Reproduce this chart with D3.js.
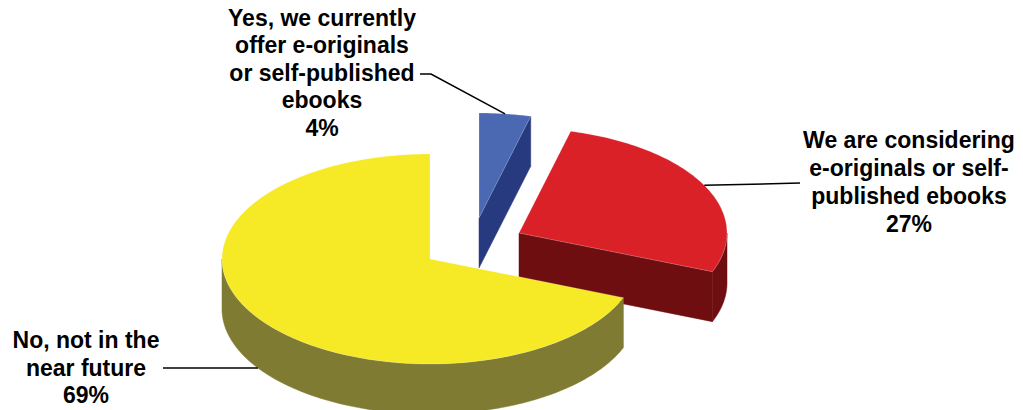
<!DOCTYPE html>
<html><head><meta charset="utf-8">
<script src="https://cdn.jsdelivr.net/npm/d3@7"></script>
<style>html,body{margin:0;padding:0;background:#fff;overflow:hidden}svg{display:block}</style>
</head><body>
<svg id="chart" width="1023" height="410"></svg>
<script>
// Survey answers, in pie order (clockwise from 12 o'clock)
const categories = [
  "Yes, we currently offer e-originals or self-published ebooks",
  "We are considering e-originals or self-published ebooks",
  "No, not in the near future"
];
const values = [4, 27, 69];
const labelLines = [
  ["Yes, we currently", "offer e-originals", "or self-published", "ebooks"],
  ["We are considering", "e-originals or self-", "published ebooks"],
  ["No, not in the", "near future"]
];
const percentLabels = ["4%", "27%", "69%"];

const topColors  = ["#4A69B2", "#DA2128", "#F6EA27"];
const sideColors = ["#283A7F", "#6E0E11", "#7F7B33"];

// 3D pie geometry
const cx = 430, cy = 259, rx = 208, ry = 105, depth = 50;
const explodeOffset = [[49, -41], [89, -26], [0, 0]];

// label layout: anchor x, first baseline, line step, leader line start on label side
const labelLayout = [
  { x: 322, y: 26,  step: 27.4, leader: [[420, 74], [431, 74]], z: 0 },
  { x: 909, y: 148, step: 28,   leader: [[800, 183]],           z: 0 },
  { x: 86,  y: 348, step: 27.5, leader: [[163, 368]],           z: depth }
];

const svg = d3.select("#chart");
const pie = d3.pie().sort(null).value(d => d.value);
const arcs = pie(values.map((v, i) => ({ value: v, i })));
const line = d3.line();

function pt(off, a, r, z) {
  return [cx + off[0] + rx * r * Math.sin(a), cy + off[1] - ry * r * Math.cos(a) + z];
}
function arcPts(off, a0, a1, z) {
  const n = Math.max(2, Math.ceil((a1 - a0) / 0.02));
  return d3.range(n + 1).map(k => pt(off, a0 + (a1 - a0) * k / n, 1, z));
}

const g = svg.append("g");

arcs.forEach((d, i) => {
  const off = explodeOffset[i];
  const a0 = d.startAngle, a1 = d.endAngle;
  const slice = g.append("g").attr("class", "slice");
  const c0 = pt(off, 0, 0, 0), c1 = pt(off, 0, 0, depth);

  // radial side walls facing the viewer
  [[a0, -Math.sin(a0) > 0], [a1, Math.sin(a1) > 0]].forEach(([a, vis]) => {
    if (!vis) return;
    const e0 = pt(off, a, 1, 0), e1 = pt(off, a, 1, depth);
    slice.append("path")
      .attr("d", line([c0, e0, e1, c1]) + "Z")
      .attr("fill", sideColors[i])
      .attr("stroke", sideColors[i]).attr("stroke-width", 0.5);
  });

  // outer rim on the front half of the ellipse
  const lo = Math.max(a0, Math.PI / 2), hi = Math.min(a1, 3 * Math.PI / 2);
  if (lo < hi) {
    const topEdge = arcPts(off, lo, hi, 0);
    const botEdge = arcPts(off, lo, hi, depth).reverse();
    slice.append("path")
      .attr("d", line(topEdge.concat(botEdge)) + "Z")
      .attr("fill", sideColors[i])
      .attr("stroke", sideColors[i]).attr("stroke-width", 0.5);
  }

  // top face
  slice.append("path")
    .attr("d", line([c0].concat(arcPts(off, a0, a1, 0))) + "Z")
    .attr("fill", topColors[i])
    .attr("stroke", "rgba(255,255,255,0.35)").attr("stroke-width", 0.6);
});

// leader lines
arcs.forEach((d, i) => {
  const lay = labelLayout[i];
  const mid = (d.startAngle + d.endAngle) / 2;
  const end = pt(explodeOffset[i], mid, 1, lay.z);
  svg.append("path")
    .attr("d", line(lay.leader.concat([end])))
    .attr("fill", "none")
    .attr("stroke", "#000")
    .attr("stroke-width", 1.5);
});

// labels
arcs.forEach((d, i) => {
  const lay = labelLayout[i];
  const lines = labelLines[i].concat([percentLabels[i]]);
  const t = svg.append("text")
    .attr("text-anchor", "middle")
    .attr("font-family", "'Liberation Sans', Arial, sans-serif")
    .attr("font-weight", "bold")
    .attr("font-size", 23)
    .attr("fill", "#000");
  lines.forEach((s, k) => {
    t.append("tspan").attr("x", lay.x).attr("y", lay.y + k * lay.step).text(s);
  });
});
</script>
</body></html>
